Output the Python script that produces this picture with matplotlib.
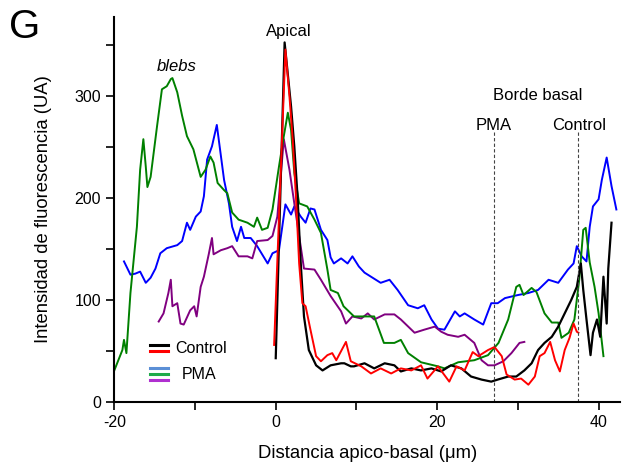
import numpy as np
import matplotlib
matplotlib.use("Agg")
import matplotlib.pyplot as plt
from matplotlib.ticker import MultipleLocator

plt.rcParams['font.family'] = ['Liberation Sans', 'DejaVu Sans']
plt.rcParams['axes.unicode_minus'] = False

# control, black
ctl_k_x = [0.0, 1.1, 1.9, 2.3, 2.7, 3.1, 3.5, 4.1, 5.0, 5.8, 6.8, 8.1, 8.5, 9.3, 9.7, 11.0, 12.2, 13.5,
           14.7, 15.5, 16.8, 18.0, 19.3, 20.5, 21.7, 23.0, 24.2, 25.5, 26.7, 27.5, 28.8, 29.8, 30.8, 31.7,
           32.5, 33.3, 34.2, 35.0, 35.8, 36.6, 37.3, 37.8, 38.1, 38.5, 39.0, 39.3, 39.8, 40.2, 40.6, 41.0,
           41.2, 41.6]
ctl_k_y = [43, 353, 290, 251, 202, 136, 84, 51, 36, 31, 36, 38, 38, 35, 35, 38, 33, 38,
           36, 30, 33, 31, 33, 30, 36, 33, 25, 22, 20, 22, 25, 25, 31, 38,
           51, 58, 64, 74, 87, 100, 113, 136, 110, 81, 46, 68, 81, 64, 123, 77,
           131, 176]

# control, red
ctl_r_x = [-0.2, 1.2, 1.7, 2.1, 2.5, 2.9, 3.3, 3.7, 4.3, 5.0, 5.6, 6.4, 7.0, 7.5, 8.7, 9.3, 10.6, 11.8,
           13.0, 14.3, 15.5, 16.8, 18.0, 18.8, 20.1, 21.5, 22.4, 23.4, 24.4, 25.1, 26.3, 27.1, 28.0, 28.6,
           29.6, 30.4, 31.3, 32.1, 32.7, 33.3, 34.0, 34.6, 35.2, 35.8, 36.4, 36.9, 37.3, 37.5]
ctl_r_y = [56, 346, 300, 258, 202, 136, 97, 94, 71, 45, 40, 46, 48, 41, 59, 40, 35, 28,
           33, 28, 33, 31, 36, 23, 35, 20, 35, 31, 49, 45, 51, 54, 45, 27,
           22, 23, 17, 25, 45, 48, 59, 41, 30, 51, 63, 77, 69, 68]

# PMA, blue
pma_b_x = [-18.8, -18.0, -17.4, -16.8, -16.1, -15.5, -14.9, -14.3, -13.5, -12.2, -11.6, -11.0, -10.6, -9.9,
           -9.3, -8.9, -8.5, -7.9, -7.3, -7.0, -6.4, -5.8, -5.4, -4.8, -4.3, -3.9, -3.1, -2.3, -1.0, -0.4,
           0.4, 1.2, 1.9, 2.3, 3.1, 3.7, 4.3, 4.8, 5.6, 6.4, 6.8, 7.2, 8.1, 8.9, 9.5, 10.3, 11.0, 13.0,
           14.1, 15.1, 16.4, 17.6, 18.4, 19.3, 20.1, 20.9, 22.2, 22.8, 23.4, 24.6, 25.7, 26.7, 27.5, 28.4,
           30.0, 31.3, 32.5, 33.8, 35.0, 36.2, 36.9, 37.3, 37.9, 38.5, 38.9, 39.3, 40.0, 40.4, 41.0, 41.6,
           42.2]
pma_b_y = [138, 125, 126, 128, 117, 122, 131, 146, 151, 154, 158, 176, 169, 182,
           187, 202, 238, 251, 272, 254, 218, 195, 172, 158, 172, 161, 161, 153, 136, 146,
           149, 194, 184, 192, 182, 176, 190, 189, 169, 159, 142, 136, 141, 136, 143, 133, 127, 117,
           120, 110, 95, 92, 95, 81, 72, 71, 89, 84, 87, 81, 76, 97, 97, 102,
           105, 107, 110, 120, 117, 130, 136, 153, 143, 138, 172, 192, 199, 218, 240, 212,
           189]

# PMA, green
pma_g_x = [-20.0, -19.0, -18.8, -18.5, -18.0, -17.2, -16.8, -16.4, -16.1, -15.9, -15.5, -14.7, -14.1, -13.5,
           -13.0, -12.8, -12.2, -11.6, -11.0, -10.2, -9.3, -8.7, -8.1, -7.7, -7.2, -6.4, -6.0, -5.4, -4.6,
           -3.5, -2.7, -2.3, -1.7, -1.0, -0.4, 0.4, 1.0, 1.5, 1.9, 2.3, 2.9, 3.9, 4.8, 5.6, 6.4, 6.8,
           7.7, 8.4, 9.7, 10.6, 12.2, 13.4, 14.7, 15.5, 16.4, 18.0, 20.1, 20.9, 22.6, 24.6, 26.3, 27.6,
           28.8, 29.8, 30.2, 30.7, 31.7, 32.3, 33.3, 34.2, 35.0, 35.4, 36.3, 37.0, 37.6, 38.1, 38.4, 38.9,
           39.5, 40.0, 40.6]
pma_g_y = [31, 51, 61, 48, 107, 172, 228, 258, 231, 211, 221, 271, 307, 310,
           317, 318, 304, 281, 261, 248, 221, 228, 241, 235, 215, 208, 205, 186, 179,
           176, 172, 181, 169, 171, 189, 231, 261, 284, 267, 225, 195, 192, 179, 166, 130, 110,
           107, 94, 84, 84, 84, 58, 58, 61, 48, 39, 35, 33, 39, 41, 46, 58,
           81, 113, 115, 105, 112, 108, 87, 78, 78, 63, 68, 81, 120, 169, 171, 137,
           113, 87, 45]

# PMA, purple
pma_p_x = [-14.5, -13.9, -13.3, -13.0, -12.8, -12.2, -11.8, -11.4, -10.6, -10.1, -9.8, -9.3, -8.9, -8.3,
           -7.9, -7.7, -6.8, -6.0, -5.4, -4.6, -3.5, -2.9, -2.3, -1.0, -0.4, 0.2, 1.0, 1.7, 2.3, 2.9,
           3.5, 4.8, 5.6, 6.8, 8.1, 8.7, 9.5, 10.6, 11.4, 12.2, 13.5, 14.7, 15.5, 17.2, 18.4, 19.7,
           20.5, 21.3, 22.6, 23.4, 24.6, 25.5, 26.3, 27.1, 28.2, 29.2, 30.2, 30.8]
pma_p_y = [79, 87, 107, 120, 94, 97, 77, 76, 90, 94, 84, 113, 123, 145,
           161, 145, 149, 151, 153, 143, 143, 141, 158, 159, 163, 182, 258, 228, 195, 163,
           131, 130, 120, 104, 89, 77, 84, 82, 87, 81, 86, 86, 81, 68, 71, 74,
           69, 66, 64, 66, 58, 41, 36, 36, 40, 48, 58, 59]

fig = plt.figure(figsize=(6.35, 4.71), dpi=100)
ax = fig.add_axes([0.18, 0.1465, 0.797, 0.8175])

lw = 1.4
ax.plot(pma_b_x, pma_b_y, color='#0000ff', lw=lw)
ax.plot(pma_p_x, pma_p_y, color='#800080', lw=lw)
ax.plot(pma_g_x, pma_g_y, color='#008000', lw=lw)
ax.plot(ctl_k_x, ctl_k_y, color='black', lw=lw + 0.2)
ax.plot(ctl_r_x, ctl_r_y, color='#ff0000', lw=lw)

# basal border markers
ax.plot([27, 27], [0, 267], ls=(0, (3, 2)), color='#444444', lw=0.8)
ax.plot([37.5, 37.5], [0, 267], ls=(0, (3, 2)), color='#444444', lw=0.8)

ax.set_xlim(-20, 42.7)
ax.set_ylim(0, 378)
ax.xaxis.set_major_locator(MultipleLocator(20))
ax.xaxis.set_minor_locator(MultipleLocator(10))
ax.yaxis.set_major_locator(MultipleLocator(100))
ax.yaxis.set_minor_locator(MultipleLocator(50))
for s in ['top', 'right']:
    ax.spines[s].set_visible(False)
ax.spines['left'].set_linewidth(1.5)
ax.spines['bottom'].set_linewidth(1.5)
ax.tick_params(which='both', direction='out', width=1.2, labelsize=11.5)
ax.tick_params(which='major', length=6)
ax.tick_params(which='minor', length=6)

ax.set_xlabel('Distancia apico-basal (\u03bcm)', fontsize=13.3, labelpad=11)
ax.set_ylabel('Intensidad de fluorescencia (UA)', fontsize=13.3, labelpad=16)

fs = 12
ax.text(1.6, 364, 'Apical', ha='center', va='center', fontsize=fs)
ax.text(-12.3, 329, 'blebs', ha='center', va='center', fontsize=fs, style='italic')
ax.text(32.5, 301, 'Borde basal', ha='center', va='center', fontsize=fs)
ax.text(27, 271, 'PMA', ha='center', va='center', fontsize=fs)
ax.text(37.6, 271, 'Control', ha='center', va='center', fontsize=fs)
fig.text(0.039, 0.942, 'G', fontsize=29, ha='center', va='center')

# hand drawn legend
tr = ax.transAxes
lx = [0.071, 0.107]
for yy, c in [(0.148, 'black'), (0.132, '#ff0000'), (0.088, '#5b8fd6'), (0.073, '#1faa4a'), (0.057, '#b02fd0')]:
    ax.plot(lx, [yy, yy], color=c, lw=2.2, transform=tr)
ax.text(0.12, 0.14, 'Control', transform=tr, va='center', fontsize=11.5)
ax.text(0.134, 0.072, 'PMA', transform=tr, va='center', fontsize=11.5)

fig.savefig('out.png', dpi=100)
